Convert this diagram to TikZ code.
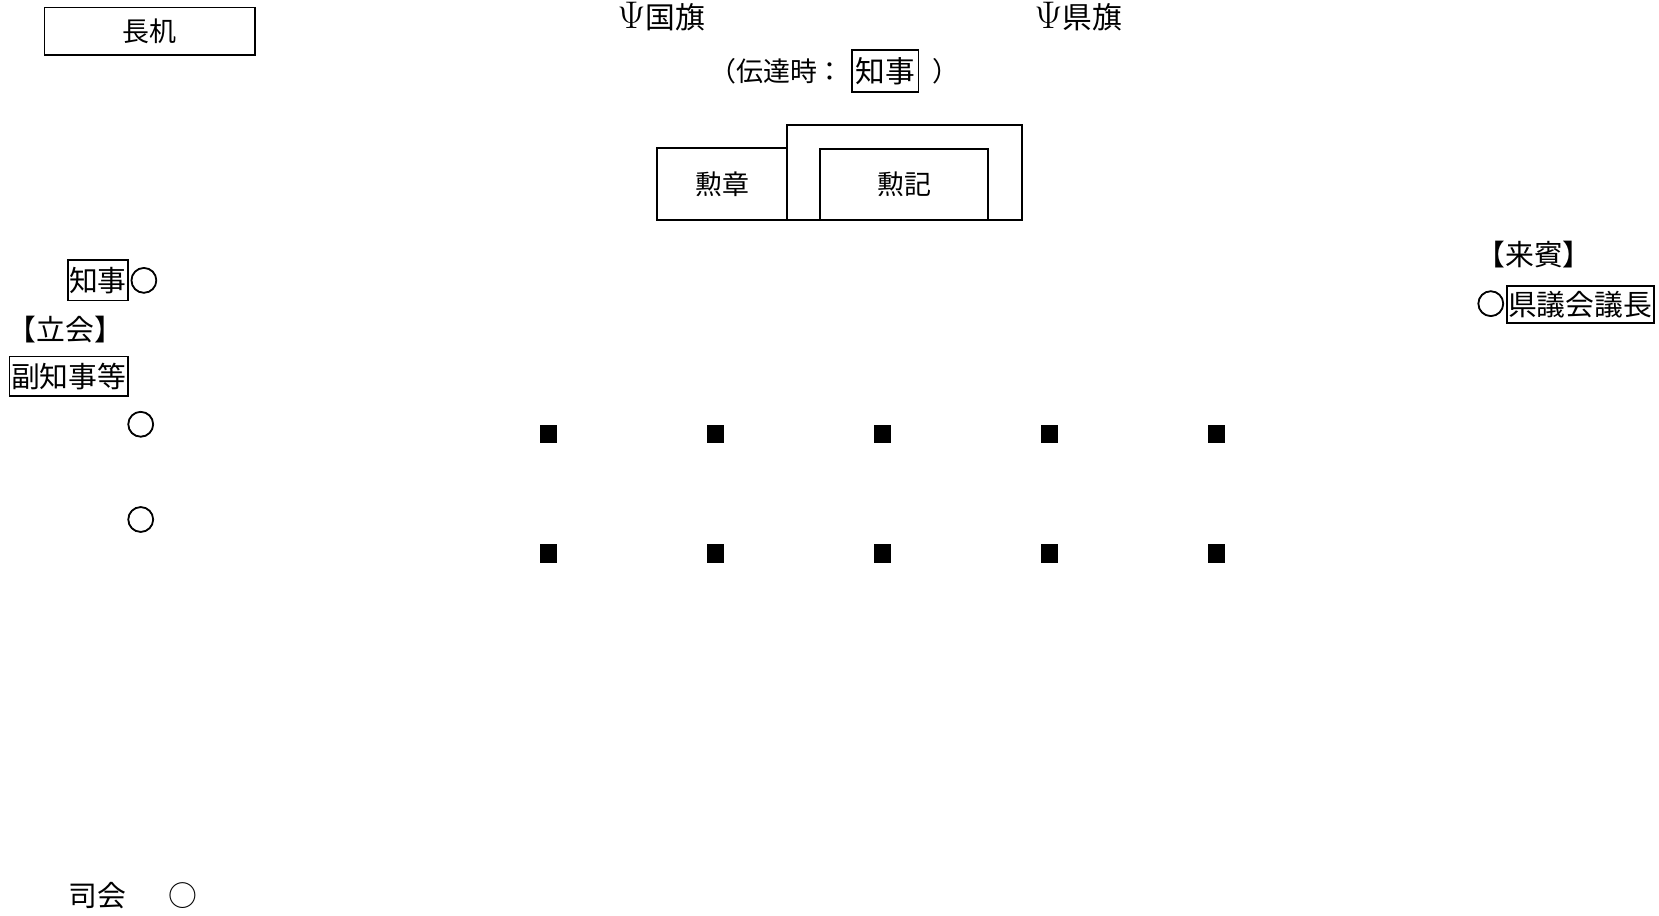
\documentclass[tikz,border=0pt]{standalone}
\usepackage{fontspec}
\usepackage{amsmath}
\setmainfont{Noto Sans CJK JP}
\newfontfamily\heavyjp{Noto Sans CJK JP}[FakeBold=2.5]
\usetikzlibrary{calc}
\newcommand{\gothsize}{\fontsize{15.5}{18}\selectfont}
\newcommand{\minsize}{\fontsize{14.5}{17}\selectfont}
\newcommand{\flagmark}{{\fontsize{20}{22}\selectfont$\Psi$}}
\tikzset{
  gtext/.style = {font=\gothsize, inner sep=0pt},
  mtext/.style = {font=\minsize, inner sep=0pt},
  mark circle/.style = {font=\heavyjp\gothsize, inner sep=0pt},
  namebox/.style = {draw, line width=0.9pt, inner sep=0pt, font=\gothsize},
  tablebox/.style = {draw, line width=0.9pt, inner sep=0pt, font=\minsize},
  seat/.style = {fill=black, inner sep=0pt, minimum width=0.32cm, minimum height=0.35cm}
}

\begin{document}
\begin{tikzpicture}[x=0.02cm, y=-0.02cm]
  \useasboundingbox (0,0) rectangle (1568,865);
  % top
  \node[tablebox, minimum width=3.98cm, minimum height=0.9cm] (desk) at (141.5,29.5) {長机};
  \node[mtext, font=\fontsize{16}{18}\selectfont] (flag1) at (625,16) {\flagmark 国旗};
  \node[mtext, font=\fontsize{16}{18}\selectfont] (flag2) at (1019,16) {\flagmark 県旗};
  \node[mtext, anchor=east] (note) at (798,67) {（伝達時：};
  \node[tablebox, minimum width=1.26cm, minimum height=0.8cm, font=\fontsize{16}{18}\selectfont] (gov1) at (836.5,67) {知事};
  \node[mtext, anchor=west] (note2) at (881,67) {）};
  % tables
  \node[draw, line width=0.9pt, minimum width=4.44cm, minimum height=1.8cm] (tray) at (855,163) {};
  \node[tablebox, minimum width=2.46cm, minimum height=1.36cm] (medal) at (682.5,174) {勲章};
  \node[tablebox, minimum width=3.18cm, minimum height=1.34cm] (diploma) at (854.5,174.5) {勲記};
  % left side
  \node[namebox, minimum width=1.14cm, minimum height=0.76cm] (gov2) at (92.5,265) {知事};
  \node[mark circle] (c1) at (136,265) {○};
  \node[gtext] (att) at (62,311) {【立会】};
  \node[namebox, minimum width=2.24cm, minimum height=0.74cm] (vice) at (65,355.5) {副知事等};
  \node[mark circle] (c2) at (133,401) {○};
  \node[mark circle] (c3) at (133,491) {○};
  % right side
  \node[gtext] (guest) at (1450,241) {【来賓】};
  \node[mark circle] (c4) at (1409,287) {○};
  \node[namebox, minimum width=2.78cm, minimum height=0.7cm] (chair) at (1493.5,287.5) {県議会議長};
  % seats
  \foreach \x in {518,676,834,992,1150}
    \foreach \y in {410,523}
      \node[seat] at (\x,\y) {};
  % bottom
  \node[mtext, font=\fontsize{15.5}{18}\selectfont] (mc) at (92,846) {司会};
  \node[mtext, font=\fontsize{15.5}{18}\selectfont] (c5) at (173,846) {○};
\end{tikzpicture}
\end{document}
